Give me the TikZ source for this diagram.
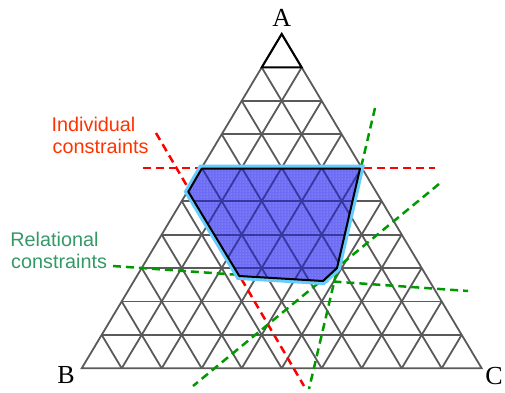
\documentclass[tikz,border=0pt]{standalone}
\usepackage{fontspec}
\setmainfont{Liberation Serif}
\newfontfamily\labelsans{Liberation Sans}
\usetikzlibrary{calc,patterns}
\definecolor{gridgray}{RGB}{90,90,90}
\definecolor{redtext}{RGB}{255,51,0}
\definecolor{greentext}{RGB}{51,153,102}
\definecolor{reddash}{RGB}{255,0,0}
\definecolor{greendash}{RGB}{0,153,0}
\definecolor{skyline}{RGB}{102,204,255}
\definecolor{polyfill}{RGB}{108,108,245}
\definecolor{dotcol}{RGB}{185,185,255}
\definecolor{navyline}{RGB}{55,55,160}
\tikzset{
  gridline/.style={draw=gridgray, line width=1.8pt},
  innergrid/.style={draw=navyline, line width=1.8pt},
  redcons/.style={draw=reddash, line width=2.5pt, dash pattern=on 8pt off 5pt},
  greencons/.style={draw=greendash, line width=2.5pt, dash pattern=on 8pt off 5pt},
  vertexlabel/.style={anchor=base, inner sep=0pt, font=\fontsize{26}{26}\selectfont},
  redlabel/.style={anchor=base west, inner sep=0pt, text=redtext, font=\labelsans\fontsize{19.8}{22}\selectfont},
  greenlabel/.style={anchor=base west, inner sep=0pt, text=greentext, font=\labelsans\fontsize{19.8}{22}\selectfont},
}
\begin{document}
\begin{tikzpicture}[x=1pt,y=-1pt]
\useasboundingbox (0,0) rectangle (505,392);
\coordinate (A) at (281.7,34);
\coordinate (B) at (81.7,368.3);
\coordinate (C) at (481.7,368.3);
% grid
\foreach \k in {1,...,9} {
  \draw[gridline] ($(A)!{\k*0.1}!(B)$) -- ($(A)!{\k*0.1}!(C)$);
  \draw[gridline] ($(B)!{\k*0.1}!(A)$) -- ($(B)!{\k*0.1}!(C)$);
  \draw[gridline] ($(C)!{\k*0.1}!(A)$) -- ($(C)!{\k*0.1}!(B)$);
}
\draw[gridline, line join=miter] (A) -- (B) -- (C) -- cycle;
\draw[black, line width=2pt] (A) -- ($(A)!0.1!(B)$) -- ($(A)!0.1!(C)$) -- cycle;
% constraint lines
\coordinate (r1s) at (143,168); \coordinate (r1e) at (435,168);
\coordinate (r2s) at (156,133); \coordinate (r2e) at (304,386);
\coordinate (g1s) at (113,266); \coordinate (g1e) at (468,291);
\coordinate (g2s) at (375,108); \coordinate (g2e) at (309,389);
\coordinate (g3s) at (439,184); \coordinate (g3e) at (193,386);
\draw[redcons] (r1s) -- (r1e);
\draw[redcons] (r2s) -- (r2e);
\draw[greencons] (g1s) -- (g1e);
\draw[greencons] (g2s) -- (g2e);
\draw[greencons] (g3s) -- (g3e);
% feasible region
\coordinate (P1) at (201.7,168.7);
\coordinate (P2) at (360,168.7);
\coordinate (P3) at (337,268);
\coordinate (P4) at (323,281);
\coordinate (P5) at (239.3,276);
\coordinate (P6) at (188.3,191.7);
\draw[skyline, line width=8pt, line join=miter] (P1) -- (P2) -- (P3) -- (P4) -- (P5) -- (P6) -- cycle;
\fill[polyfill] (P1) -- (P2) -- (P3) -- (P4) -- (P5) -- (P6) -- cycle;
\fill[pattern=dots, pattern color=dotcol] (P1) -- (P2) -- (P3) -- (P4) -- (P5) -- (P6) -- cycle;
\begin{scope}
  \clip (P1) -- (P2) -- (P3) -- (P4) -- (P5) -- (P6) -- cycle;
  \foreach \k in {1,...,9} {
    \draw[innergrid] ($(A)!{\k*0.1}!(B)$) -- ($(A)!{\k*0.1}!(C)$);
    \draw[innergrid] ($(B)!{\k*0.1}!(A)$) -- ($(B)!{\k*0.1}!(C)$);
    \draw[innergrid] ($(C)!{\k*0.1}!(A)$) -- ($(C)!{\k*0.1}!(B)$);
  }
\end{scope}
\draw[black, line width=2pt, line join=round] (P1) -- (P2) -- (P3) -- (P4) -- (P5) -- (P6) -- cycle;
% labels
\node[vertexlabel] (lA) at (281.7,26.7) {A};
\node[vertexlabel] (lB) at (66,383.3) {B};
\node[vertexlabel] (lC) at (494,384) {C};
\node[redlabel] (ind1) at (51.5,131.7) {Individual};
\node[redlabel] (ind2) at (52.5,153.3) {constraints};
\node[greenlabel] (rel1) at (10.2,246.7) {Relational};
\node[greenlabel] (rel2) at (11,268.3) {constraints};
\end{tikzpicture}
\end{document}
